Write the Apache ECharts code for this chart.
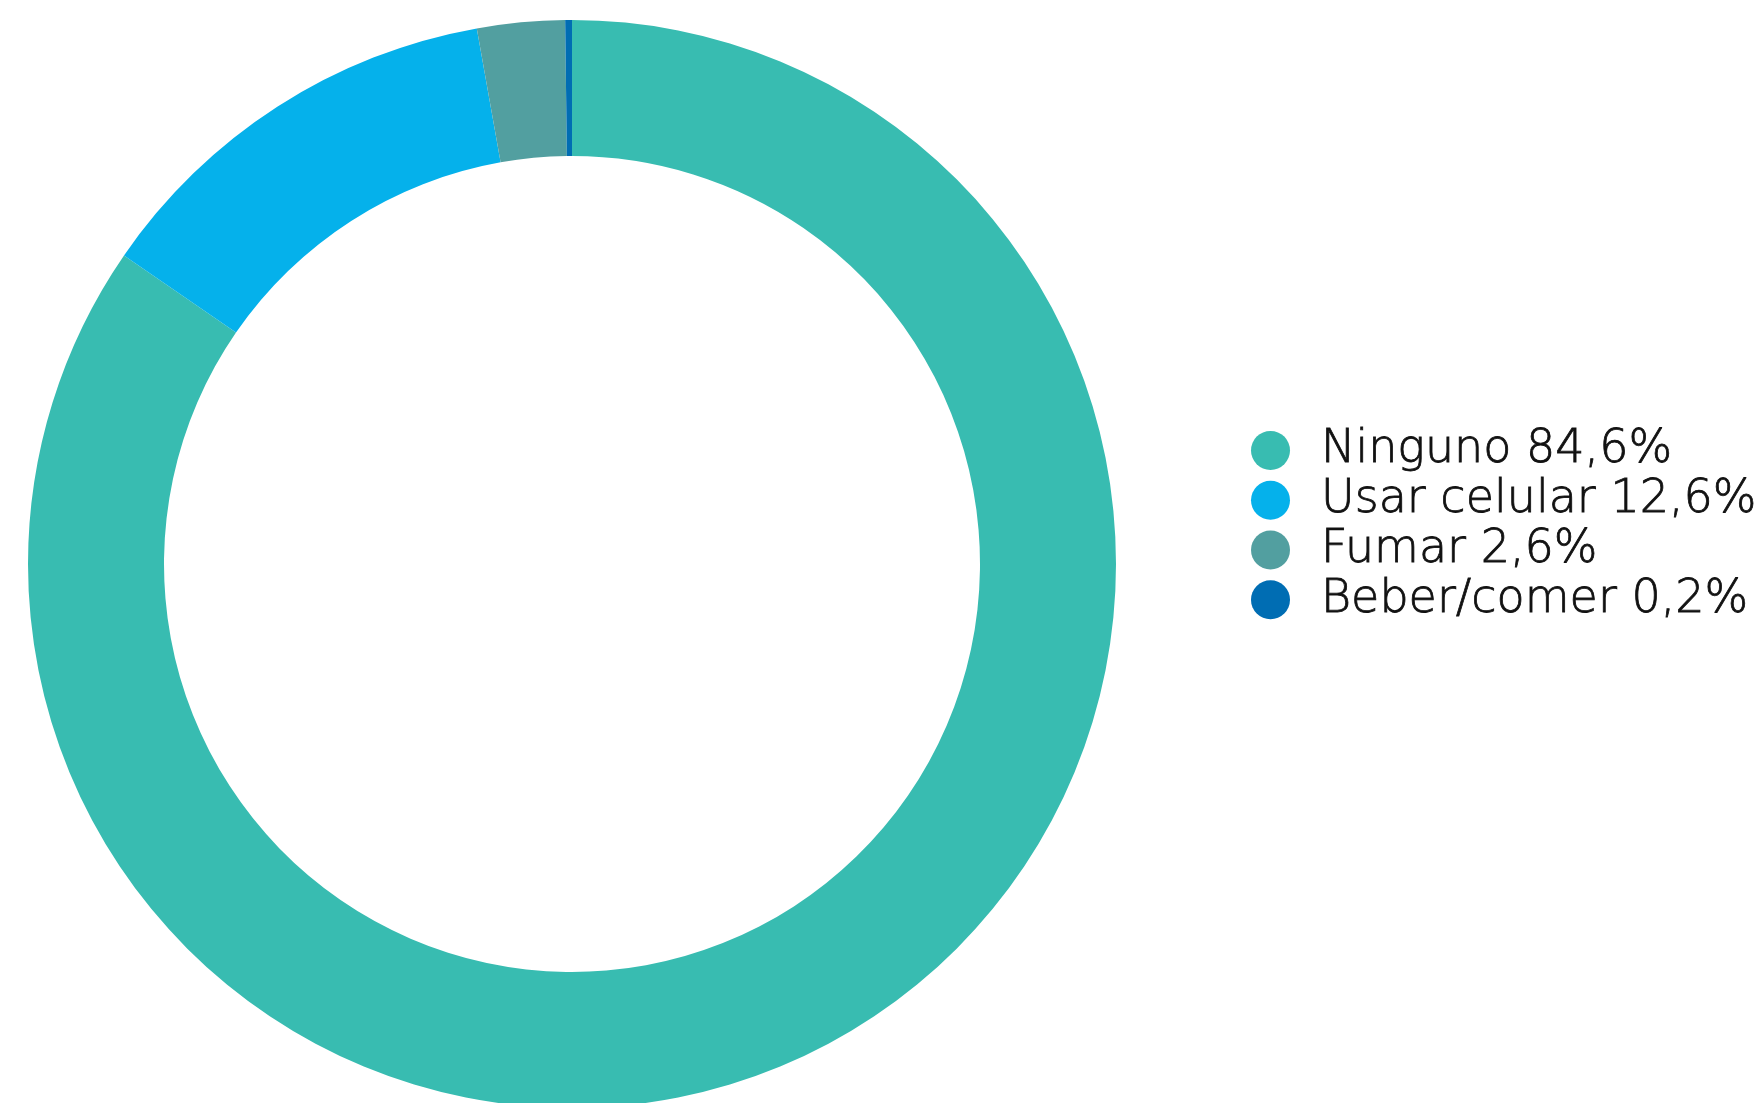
<!DOCTYPE html>
<html>
<head>
<meta charset="utf-8">
<script src="https://cdn.jsdelivr.net/npm/echarts@6/dist/echarts.min.js"></script>
<style>
  html, body { margin: 0; padding: 0; background: #ffffff; }
  #chart { width: 1762px; height: 1103px; }
</style>
</head>
<body>
<div id="chart"></div>
<script>
// Distracciones al conducir (% de conductores)
const categories = ['Ninguno', 'Usar celular', 'Fumar', 'Beber/comer'];
const shares = [84.6, 12.6, 2.6, 0.2];
const colors = ['#38bcb1', '#05b1eb', '#529fa0', '#006db3'];

const pieData = categories.map((name, i) => ({
  name: name,
  value: shares[i],
  itemStyle: { color: colors[i] }
}));

const fmt = v => v.toFixed(1).replace('.', ',') + '%';

const chart = echarts.init(document.getElementById('chart'), null, { renderer: 'canvas' });
chart.setOption({
  animation: false,
  backgroundColor: '#ffffff',
  legend: {
    orient: 'vertical',
    left: 1251,
    top: 427,
    icon: 'circle',
    itemWidth: 39,
    itemHeight: 39,
    itemGap: 3,
    padding: 0,
    selectedMode: false,
    data: categories,
    formatter: name => name + ' ' + fmt(shares[categories.indexOf(name)]),
    textStyle: {
      fontFamily: 'DejaVu Sans',
      fontWeight: 200,
      fontSize: 46,
      color: '#111111',
      textBorderColor: '#111111',
      textBorderWidth: 0.8,
      lineHeight: 39,
      padding: [0, 0, 0, 26]
    }
  },
  series: [{
    type: 'pie',
    center: [572, 564],
    radius: [408, 544],
    startAngle: 90,
    clockwise: true,
    label: { show: false },
    labelLine: { show: false },
    emphasis: { disabled: true },
    itemStyle: { borderWidth: 0 },
    data: pieData
  }]
});
</script>
</body>
</html>
